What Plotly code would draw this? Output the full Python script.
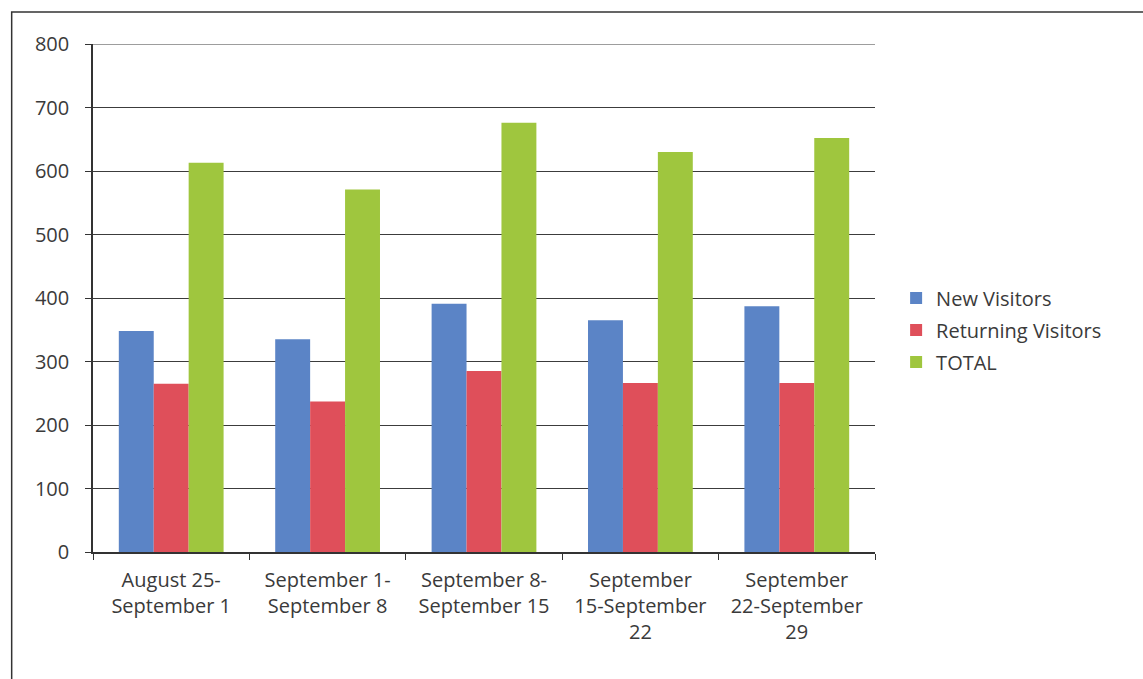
import plotly.graph_objects as go

# Weekly visitor counts
weeks = [
    "August 25-<br>September 1",
    "September 1-<br>September 8",
    "September 8-<br>September 15",
    "September<br>15-September<br>22",
    "September<br>22-September<br>29",
]
new_visitors = [348, 335, 391, 365, 387]
returning_visitors = [265, 237, 285, 266, 266]
total_visitors = [613, 571, 676, 630, 652]

y_ticks = [0, 100, 200, 300, 400, 500, 600, 700, 800]

FONT = "'Open Sans', 'Noto Sans', sans-serif"
TEXT = "#3a3a3a"
LINE = "#333333"

fig = go.Figure()
fig.add_trace(go.Bar(name="New Visitors", x=weeks, y=new_visitors,
                     legendgroup="new",
                     marker=dict(color="#5b84c6", line=dict(width=0))))
fig.add_trace(go.Bar(name="Returning Visitors", x=weeks, y=returning_visitors,
                     legendgroup="returning",
                     marker=dict(color="#df4f5a", line=dict(width=0))))
fig.add_trace(go.Bar(name="TOTAL", x=weeks, y=total_visitors,
                     legendgroup="total",
                     marker=dict(color="#9fc63e", line=dict(width=0))))

fig.update_layout(
    width=1143, height=679,
    margin=dict(l=93, r=268, t=44, b=127),
    paper_bgcolor="white", plot_bgcolor="white",
    barmode="group", bargap=0.33, bargroupgap=0,
    font=dict(family=FONT, size=20, color=TEXT),
    legend=dict(x=1.027, y=0.437, xanchor="left", yanchor="middle",
                font=dict(family=FONT, size=20, color=TEXT),
                itemwidth=30, tracegroupgap=3, bgcolor="rgba(0,0,0,0)"),
    xaxis=dict(showline=True, linecolor=LINE, linewidth=1.5,
               ticks="outside", tickson="boundaries", ticklen=6,
               tickcolor=LINE, showgrid=False, ticklabelstandoff=9,
               tickfont=dict(family=FONT, size=20, color=TEXT)),
    yaxis=dict(range=[0, 800], tickvals=y_ticks, showline=True,
               linecolor=LINE, linewidth=1.5, ticks="outside",
               ticklen=6, tickcolor=LINE, showgrid=True,
               gridcolor="#3c3c3c", gridwidth=1, zeroline=False,
               ticklabelstandoff=12,
               tickfont=dict(family=FONT, size=20, color=TEXT)),
    shapes=[
        # outer chart frame
        dict(type="rect", xref="paper", yref="paper",
             x0=-0.104, x1=1.4, y0=-0.4, y1=1.063,
             line=dict(color=LINE, width=1.5), layer="below"),
        # top gridline at the axis maximum
        dict(type="line", xref="paper", yref="y",
             x0=0, x1=1, y0=800, y1=800,
             line=dict(color="#3c3c3c", width=1)),
    ],
)

fig.write_html("out.html")
